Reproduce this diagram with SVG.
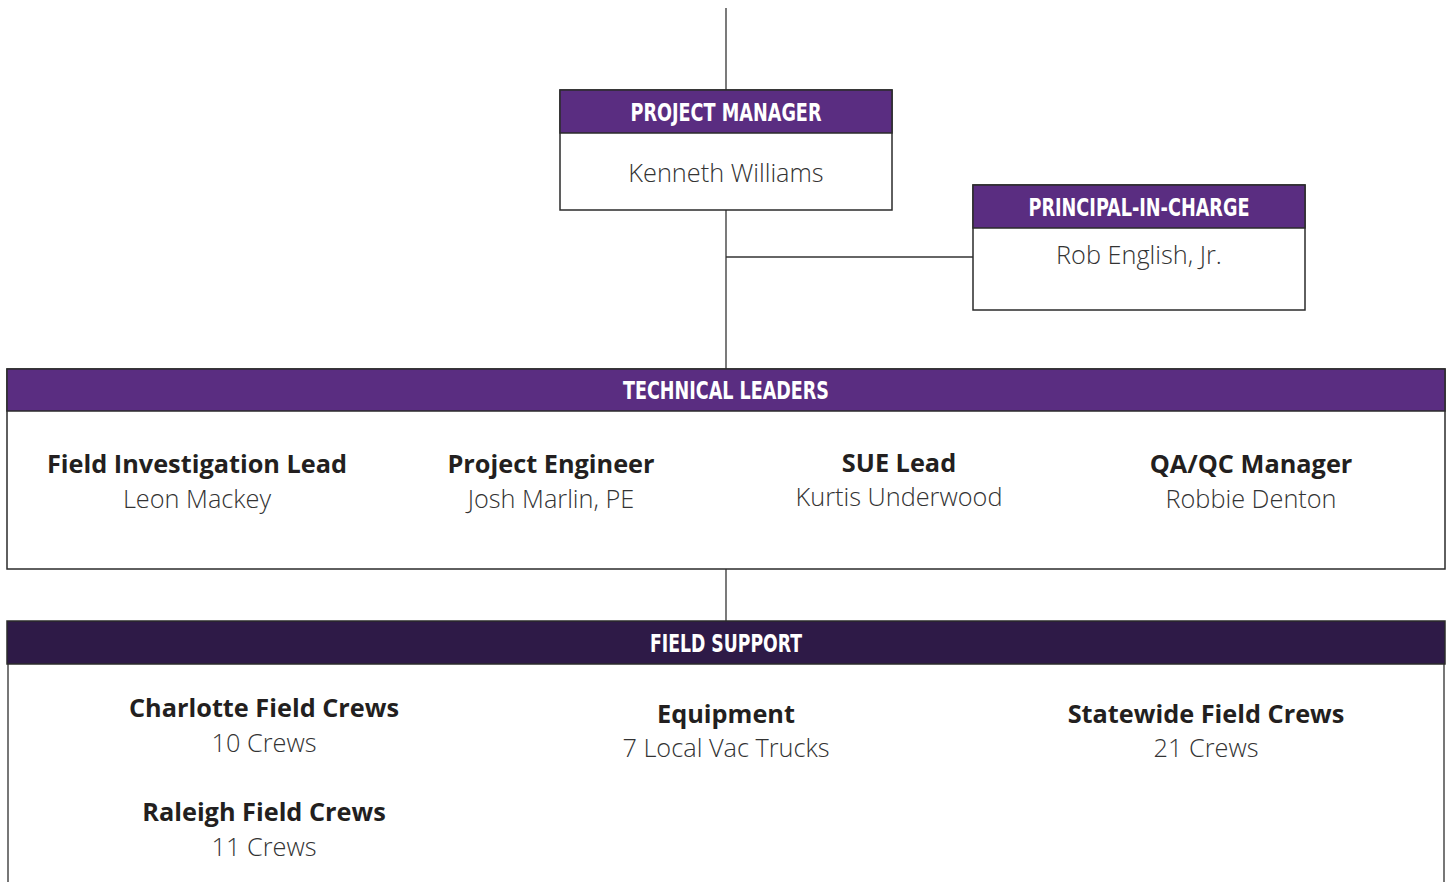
<svg xmlns="http://www.w3.org/2000/svg" width="1449" height="882" viewBox="0 0 1449 882">
<style>
.box{fill:#fff;stroke:#2b2b2b;stroke-width:1.5}
.hdr{fill:#5a2d81;stroke:#2b2b2b;stroke-width:1.5}
.hdr2{fill:#2e1a47;stroke:#2b2b2b;stroke-width:1.5}
.ht{font-family:"DejaVu Sans Condensed","Liberation Sans",sans-serif;font-weight:bold;font-size:25px;fill:#fff;text-anchor:middle}
.nm{font-family:"Open Sans","Noto Sans",sans-serif;font-weight:300;font-size:25.3px;fill:#333;text-anchor:middle}
.tt{font-family:"Open Sans","Noto Sans",sans-serif;font-weight:bold;font-size:25.3px;fill:#231f20;text-anchor:middle}
.ln{stroke:#333;stroke-width:1.3;fill:none}
.side{stroke:#777;stroke-width:2;fill:none}
</style>
<rect width="1449" height="882" fill="#fff"/>
<g id="connectors">
<line class="ln" x1="726" y1="8" x2="726" y2="90"/>
<line class="ln" x1="726" y1="210" x2="726" y2="369"/>
<line class="ln" x1="726" y1="257" x2="973" y2="257"/>
<line class="ln" x1="726" y1="569" x2="726" y2="621"/>
</g>
<g id="project-manager">
<rect class="box" x="560" y="90" width="332" height="120"/>
<rect class="hdr" x="560" y="90" width="332" height="43"/>
<text class="ht" x="726" y="121" textLength="191" lengthAdjust="spacingAndGlyphs">PROJECT MANAGER</text>
<text class="nm" x="726" y="182">Kenneth Williams</text>
</g>
<g id="principal-in-charge">
<rect class="box" x="973" y="185" width="332" height="125"/>
<rect class="hdr" x="973" y="185" width="332" height="43"/>
<text class="ht" x="1139" y="216" textLength="221" lengthAdjust="spacingAndGlyphs">PRINCIPAL-IN-CHARGE</text>
<text class="nm" x="1139" y="264">Rob English, Jr.</text>
</g>
<g id="technical-leaders">
<rect class="box" x="7" y="369" width="1438" height="200"/>
<rect class="hdr" x="7" y="369" width="1438" height="42"/>
<text class="ht" x="726" y="399" textLength="206" lengthAdjust="spacingAndGlyphs">TECHNICAL LEADERS</text>
<text class="tt" x="197" y="473">Field Investigation Lead</text>
<text class="nm" x="197" y="508">Leon Mackey</text>
<text class="tt" x="551" y="473">Project Engineer</text>
<text class="nm" x="551" y="508">Josh Marlin, PE</text>
<text class="tt" x="899" y="472">SUE Lead</text>
<text class="nm" x="899" y="506">Kurtis Underwood</text>
<text class="tt" x="1251" y="473">QA/QC Manager</text>
<text class="nm" x="1251" y="508">Robbie Denton</text>
</g>
<g id="field-support">
<line class="side" x1="8" y1="664" x2="8" y2="882"/>
<line class="side" x1="1444" y1="664" x2="1444" y2="882"/>
<rect class="hdr2" x="7" y="621" width="1438" height="43"/>
<text class="ht" x="726" y="652" textLength="152" lengthAdjust="spacingAndGlyphs">FIELD SUPPORT</text>
<text class="tt" x="264" y="717">Charlotte Field Crews</text>
<text class="nm" x="264" y="752">10 Crews</text>
<text class="tt" x="264" y="821">Raleigh Field Crews</text>
<text class="nm" x="264" y="856">11 Crews</text>
<text class="tt" x="726" y="723">Equipment</text>
<text class="nm" x="726" y="757">7 Local Vac Trucks</text>
<text class="tt" x="1206" y="723">Statewide Field Crews</text>
<text class="nm" x="1206" y="757">21 Crews</text>
</g>
</svg>
